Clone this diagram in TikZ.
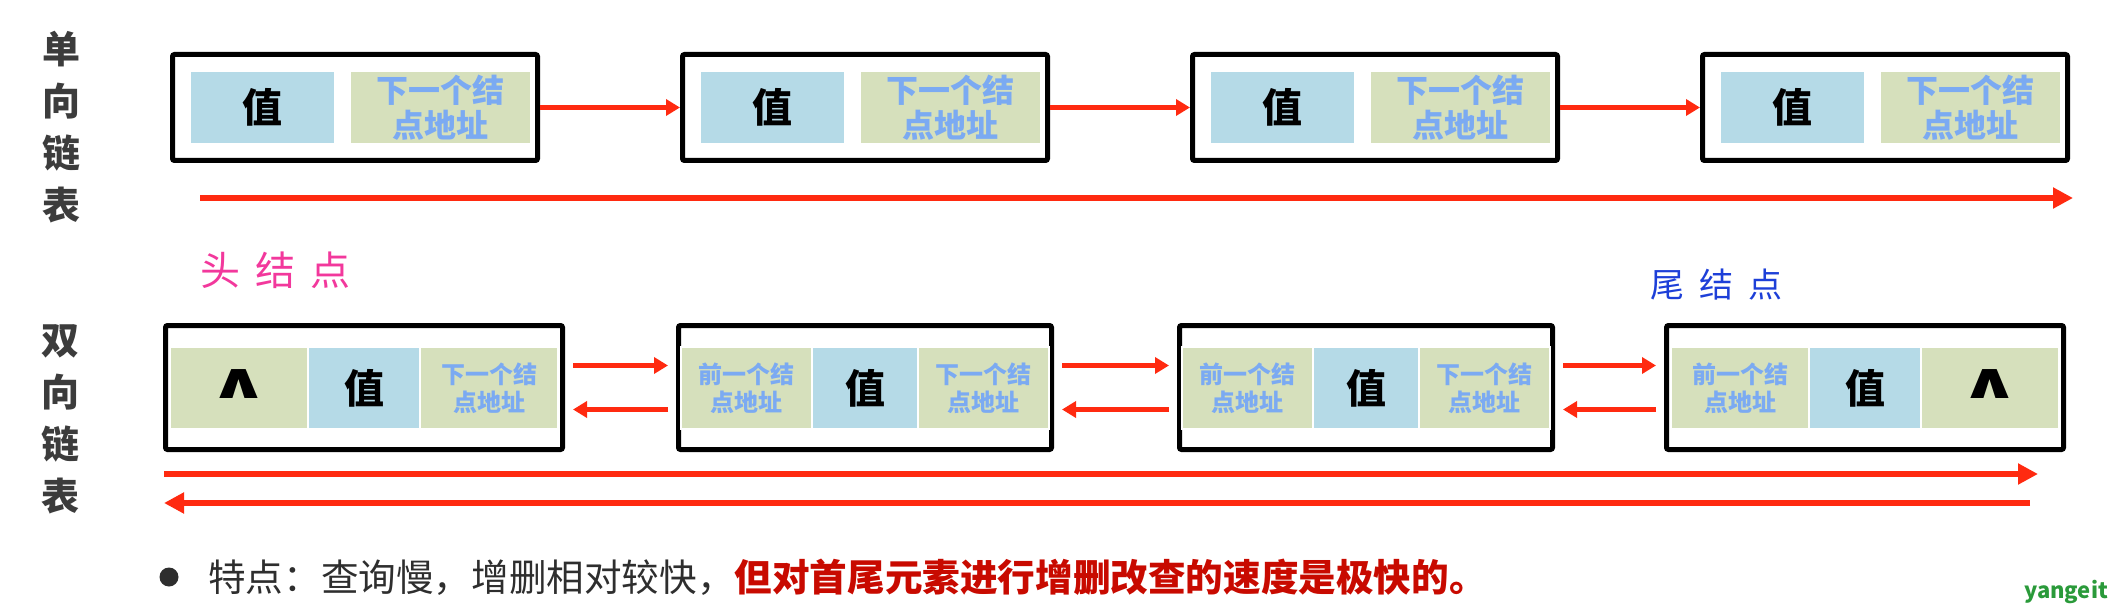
\documentclass[tikz,border=0pt]{standalone}
\usepackage{fontspec}
\usepackage{graphicx}
\setmainfont{Noto Sans CJK SC}
\newfontfamily\wedgefont{DejaVu Sans}
\usetikzlibrary{arrows.meta}

\definecolor{valblue}{HTML}{B5DAE7}
\definecolor{addrgreen}{HTML}{D6E0BC}
\definecolor{addrtext}{HTML}{7BAAF2}
\definecolor{linkred}{HTML}{FF2A10}
\definecolor{notered}{HTML}{C80A00}
\definecolor{notegray}{HTML}{2E2E2E}
\definecolor{sidegray}{HTML}{3C3C3C}
\definecolor{headpink}{HTML}{F2389C}
\definecolor{tailblue}{HTML}{1D3FD8}
\definecolor{markgreen}{HTML}{2A9A3A}

\newcommand{\nullmark}{\raisebox{8pt}{\scalebox{1.5}[1]{∧}}}

\begin{document}
\begin{tikzpicture}[x=1pt, y=-1pt,
    nodebox/.style={draw=black, line width=5pt, rounded corners=2pt, inner sep=0pt},
    topbox/.style={nodebox, minimum width=365pt, minimum height=106pt},
    endbox/.style={nodebox, minimum width=397pt, minimum height=124pt},
    midbox/.style={nodebox, minimum width=373pt, minimum height=124pt},
    valcell/.style={fill=valblue, inner sep=0pt, font=\fontsize{40}{40}\selectfont\bfseries},
    addrcell/.style={fill=addrgreen, inner sep=0pt, text=addrtext, align=center},
    topval/.style={valcell, minimum width=143pt, minimum height=71pt},
    topaddr/.style={addrcell, minimum width=179pt, minimum height=71pt, font=\fontsize{32}{35}\selectfont\bfseries},
    sidecell/.style={draw=white, line width=1.5pt, minimum height=82pt},
    endval/.style={valcell, sidecell, minimum width=112pt},
    midval/.style={valcell, sidecell, minimum width=106pt},
    endaddr/.style={addrcell, sidecell, minimum width=138pt, font=\fontsize{24}{28}\selectfont\bfseries},
    midaddr/.style={addrcell, sidecell, minimum width=131pt, font=\fontsize{24}{28}\selectfont\bfseries},
    nullcell/.style={fill=addrgreen, sidecell, minimum width=138pt, inner sep=0pt, font=\wedgefont\fontsize{50}{50}\selectfont\bfseries},
    sidelabel/.style={align=center, text=sidegray, font=\fontsize{38}{52}\selectfont\bfseries},
    link/.style={draw=linkred, line width=5pt, -{Triangle[length=14pt,width=16pt]}},
    sweep/.style={draw=linkred, line width=6pt, -{Triangle[length=20pt,width=20pt]}}]
    \useasboundingbox (0,0) rectangle (2111,612);

    %Side labels
    \node[sidelabel] at (61,127.5) (single) {单\\向\\链\\表};
    \node[sidelabel] at (60,419.5) (double) {双\\向\\链\\表};

    %Singly linked nodes
    \node[topbox] at (355,107.5) (s1) {};
    \node[topbox] at (865,107.5) (s2) {};
    \node[topbox] at (1375,107.5) (s3) {};
    \node[topbox] at (1885,107.5) (s4) {};
    \node[topval] at (262.5,107.5) (s1val) {值};
    \node[topval] at (772.5,107.5) (s2val) {值};
    \node[topval] at (1282.5,107.5) (s3val) {值};
    \node[topval] at (1792.5,107.5) (s4val) {值};
    \node[topaddr] at (440.5,107.5) (s1next) {下一个结\\点地址};
    \node[topaddr] at (950.5,107.5) (s2next) {下一个结\\点地址};
    \node[topaddr] at (1460.5,107.5) (s3next) {下一个结\\点地址};
    \node[topaddr] at (1970.5,107.5) (s4next) {下一个结\\点地址};
    \coordinate (sfrom) at (200,198);
    \coordinate (sto) at (2073,198);

    %Head and tail
    \node[text=headpink, font=\fontsize{40}{40}\selectfont] at (275,270) (head) {头\hspace{15pt}结\hspace{15pt}点};
    \node[text=tailblue, font=\fontsize{34}{34}\selectfont] at (1716,285) (tail) {尾\hspace{15pt}结\hspace{15pt}点};

    %Doubly linked nodes
    \node[endbox] at (364,387.5) (d1) {};
    \node[midbox] at (865,387.5) (d2) {};
    \node[midbox] at (1366,387.5) (d3) {};
    \node[endbox] at (1865,387.5) (d4) {};
    \node[nullcell] at (239,388) (d1prev) {\nullmark};
    \node[endval] at (364,388) (d1val) {值};
    \node[endaddr] at (489,388) (d1next) {下一个结\\点地址};
    \node[midaddr] at (746.5,388) (d2prev) {前一个结\\点地址};
    \node[midval] at (865,388) (d2val) {值};
    \node[midaddr] at (983.5,388) (d2next) {下一个结\\点地址};
    \node[midaddr] at (1247.5,388) (d3prev) {前一个结\\点地址};
    \node[midval] at (1366,388) (d3val) {值};
    \node[midaddr] at (1484.5,388) (d3next) {下一个结\\点地址};
    \node[endaddr] at (1740,388) (d4prev) {前一个结\\点地址};
    \node[endval] at (1865,388) (d4val) {值};
    \node[nullcell] at (1990,388) (d4next) {\nullmark};
    \coordinate (dfwdfrom) at (164,474);
    \coordinate (dfwdto) at (2038,474);
    \coordinate (dbackfrom) at (2030,503);
    \coordinate (dbackto) at (164,503);

    %Note
    \node[circle, fill=notegray, minimum size=19pt, inner sep=0pt] at (169,577) (dot) {};
    \node[anchor=west, inner sep=0pt, font=\fontsize{37.6}{37.6}\selectfont] at (208,577) (note)
        {{\color{notegray}特点：查询慢，增删相对较快，}{\color{notered}\bfseries 但对首尾元素进行增删改查的速度是极快的。}};
    \node[text=markgreen, font=\fontsize{22}{22}\selectfont\bfseries] at (2066,592) (mark) {yangeit};

    %Lines
    \draw[link] (s1.east) -- (s2.west);
    \draw[link] (s2.east) -- (s3.west);
    \draw[link] (s3.east) -- (s4.west);
    \draw[sweep] (sfrom) -- (sto);
    \draw[link] ([xshift=8pt,yshift=22pt]d1.east) -- ([xshift=-8pt,yshift=22pt]d2.west);
    \draw[link] ([xshift=-8pt,yshift=-22pt]d2.west) -- ([xshift=8pt,yshift=-22pt]d1.east);
    \draw[link] ([xshift=8pt,yshift=22pt]d2.east) -- ([xshift=-8pt,yshift=22pt]d3.west);
    \draw[link] ([xshift=-8pt,yshift=-22pt]d3.west) -- ([xshift=8pt,yshift=-22pt]d2.east);
    \draw[link] ([xshift=8pt,yshift=22pt]d3.east) -- ([xshift=-8pt,yshift=22pt]d4.west);
    \draw[link] ([xshift=-8pt,yshift=-22pt]d4.west) -- ([xshift=8pt,yshift=-22pt]d3.east);
    \draw[sweep] (dfwdfrom) -- (dfwdto);
    \draw[sweep] (dbackfrom) -- (dbackto);
\end{tikzpicture}
\end{document}
